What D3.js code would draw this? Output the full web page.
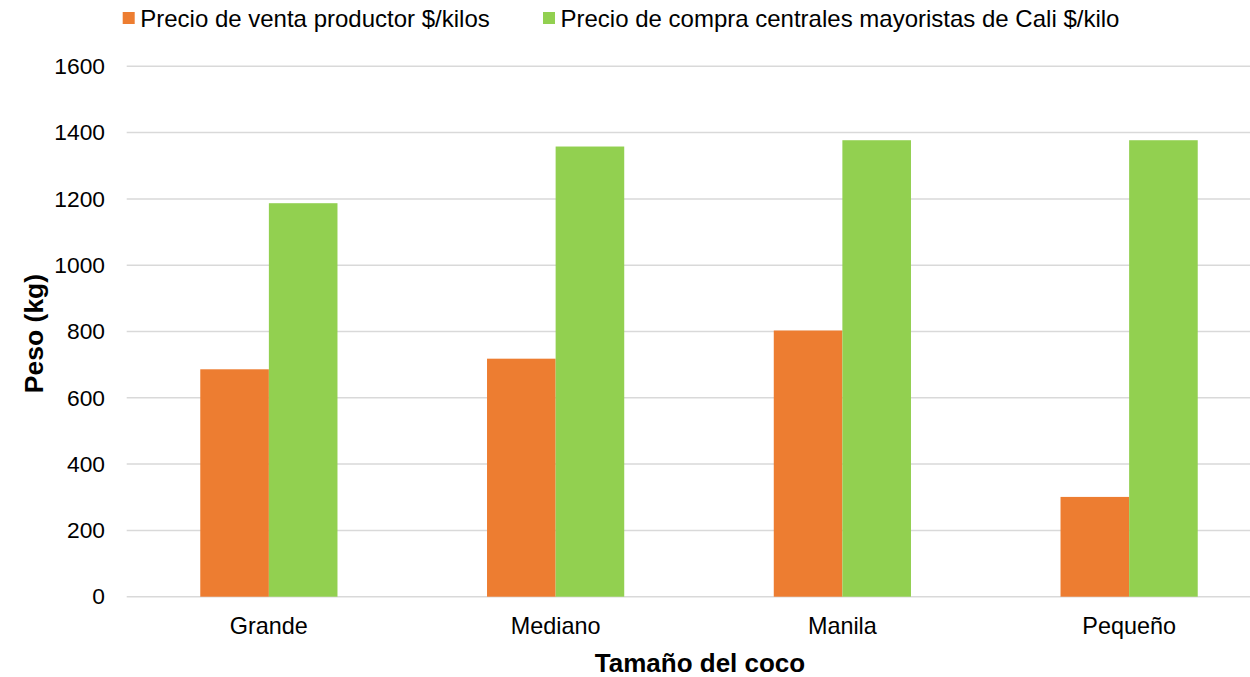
<!DOCTYPE html>
<html>
<head>
<meta charset="utf-8">
<script src="https://cdn.jsdelivr.net/npm/d3@7"></script>
<style>
  body { margin: 0; background: #fff; }
  svg { font-family: "Liberation Sans", Arial, sans-serif; }
</style>
</head>
<body>
<svg id="chart"></svg>
<script>
// data
const categories = ["Grande", "Mediano", "Manila", "Pequeño"];
const seriesNames = [
  "Precio de venta productor $/kilos",
  "Precio de compra centrales mayoristas de Cali $/kilo"
];
const ventaProductor = [686, 718, 803, 301];
const compraMayoristas = [1187, 1358, 1377, 1377];
const yTicks = [0, 200, 400, 600, 800, 1000, 1200, 1400, 1600];
const colors = ["#ED7D31", "#92D050"];

const width = 1250, height = 677;
const svg = d3.select("#chart").attr("width", width).attr("height", height);

const rows = categories.map((c, i) => ({
  name: c,
  values: [ventaProductor[i], compraMayoristas[i]]
}));

// scales
const x0 = d3.scaleBand().domain(categories).range([125.5, 1272.5]);
const x1 = d3.scaleBand()
  .domain([0, 1])
  .range([0, x0.bandwidth()])
  .paddingOuter(1.09);
const y = d3.scaleLinear().domain([0, 1600]).range([596.7, 66.3]);

// gridlines
svg.append("g")
  .selectAll("line")
  .data(yTicks)
  .join("line")
  .attr("x1", 126.7)
  .attr("x2", width)
  .attr("y1", d => y(d))
  .attr("y2", d => y(d))
  .attr("stroke", "#d9d9d9")
  .attr("stroke-width", 1.5);

// bars
const groups = svg.append("g")
  .selectAll("g")
  .data(rows)
  .join("g")
  .attr("transform", d => `translate(${x0(d.name)},0)`);

groups.selectAll("rect")
  .data(d => d.values.map((v, k) => ({ k, v })))
  .join("rect")
  .attr("x", d => x1(d.k))
  .attr("width", x1.bandwidth())
  .attr("y", d => y(d.v))
  .attr("height", d => y(0) - y(d.v))
  .attr("fill", d => colors[d.k]);

// y axis tick labels
const yAxis = svg.append("g")
  .attr("transform", "translate(105,0)")
  .call(d3.axisLeft(y).tickValues(yTicks).tickFormat(d3.format("d")).tickSize(0).tickPadding(0));
yAxis.select(".domain").remove();
yAxis.selectAll("text")
  .attr("font-size", 22.8)
  .attr("fill", "#000")
  .attr("font-family", "Liberation Sans, Arial, sans-serif");

// x axis category labels
const xAxis = svg.append("g")
  .attr("transform", `translate(0,${y(0)})`)
  .call(d3.axisBottom(x0).tickSize(0).tickPadding(20.5));
xAxis.select(".domain").remove();
xAxis.selectAll("text")
  .attr("font-size", 23.4)
  .attr("fill", "#000")
  .attr("font-family", "Liberation Sans, Arial, sans-serif");

// axis titles
svg.append("text")
  .attr("x", 700)
  .attr("y", 672)
  .attr("text-anchor", "middle")
  .attr("font-weight", "bold")
  .attr("font-size", 26)
  .text("Tamaño del coco");

svg.append("text")
  .attr("transform", `translate(43,${(y(0) + y(1600)) / 2 + 2}) rotate(-90)`)
  .attr("text-anchor", "middle")
  .attr("font-weight", "bold")
  .attr("font-size", 26.5)
  .text("Peso (kg)");

// legend
const legendX = [122.7, 543];
const legend = svg.append("g")
  .selectAll("g")
  .data(seriesNames)
  .join("g")
  .attr("transform", (d, i) => `translate(${legendX[i]},12)`);
legend.append("rect")
  .attr("width", 12)
  .attr("height", 12)
  .attr("fill", (d, i) => colors[i]);
legend.append("text")
  .attr("x", 17.5)
  .attr("y", 14.7)
  .attr("font-size", 24)
  .text(d => d);
</script>
</body>
</html>
